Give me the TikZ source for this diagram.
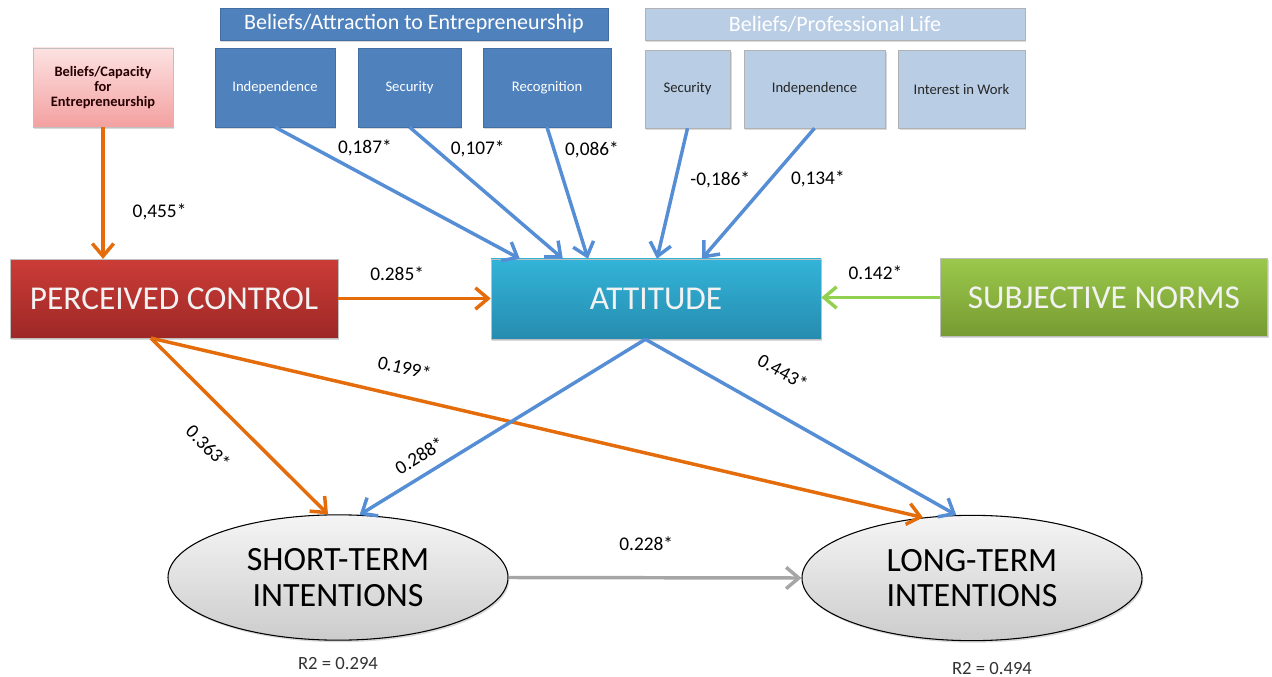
\documentclass[tikz,border=0pt]{standalone}
\usepackage{fontspec}
\setmainfont{Carlito}
\usetikzlibrary{positioning, calc, arrows.meta, shapes.geometric, shadows}
\definecolor{arrorange}{RGB}{228,108,10}
\definecolor{arrblue}{RGB}{85,142,213}
\definecolor{arrgreen}{RGB}{146,208,80}
\definecolor{arrgray}{RGB}{166,166,166}
\definecolor{attrblue}{RGB}{79,129,189}
\definecolor{profblue}{RGB}{185,205,229}
\begin{document}
\begin{tikzpicture}[x=0.75pt, y=-0.75pt, >={Straight Barb[length=9.5pt,width=16pt]},
  shade/.style={drop shadow={shadow xshift=1pt, shadow yshift=-1.5pt, opacity=.3}},
  small/.style={font=\fontsize{11}{11.5}\selectfont},
  box/.style={shade, inner sep=2pt, align=center, minimum height=59pt},
  attr/.style={box, small, fill=attrblue, draw=attrblue!85!black, text=white},
  prof/.style={box, small, fill=profblue, draw=black!30, text=black!85, minimum height=58.5pt},
  head/.style={box, font=\fontsize{16.5}{18}\selectfont, text=white, minimum height=24pt},
  big/.style={box, font=\fontsize{25}{27}\selectfont, text=white!95!black, minimum width=246pt, draw=black!25},
  goal/.style={ellipse, shade, draw=black, line width=.8pt, top color=black!4, bottom color=black!20, inner sep=0pt,
    minimum width=255pt, minimum height=94pt, align=center, font=\fontsize{25.5}{26.5}\selectfont},
  coef/.style={font=\fontsize{14.5}{16}\selectfont, inner sep=1pt},
  rsq/.style={font=\fontsize{14}{16}\selectfont, text=black!80},
  org/.style={draw=arrorange, line width=2.6pt, ->},
  blu/.style={draw=arrblue, line width=2.6pt, ->}]
\useasboundingbox (0,0) rectangle (1272,677);
\node[box, small, font=\bfseries\fontsize{10.8}{11.3}\selectfont, text=black!75!red!60!black, draw=black!25,
  top color={rgb,255:red,253;green,226;blue,226}, bottom color={rgb,255:red,243;green,160;blue,160},
  minimum width=105pt, minimum height=59.5pt] (cap) at (103,87.5) {Beliefs/Capacity\\for\\Entrepreneurship};
\node[head, fill=attrblue, draw=attrblue!85!black, minimum width=291pt] (ahead) at (414,24) {Beliefs/Attraction to Entrepreneurship};
\node[attr, minimum width=90pt] (aind) at (275,87.5) {Independence};
\node[attr, minimum width=77pt] (asec) at (409.5,87.5) {Security};
\node[attr, minimum width=96pt] (arec) at (547,87.5) {Recognition};
\node[head, fill=profblue, draw=black!30, minimum width=285pt] (phead) at (835,24) {Beliefs/Professional Life};
\node[prof, minimum width=64pt] (psec) at (687.5,89) {Security};
\node[prof, minimum width=106pt] (pind) at (814.5,89) {Independence};
\node[prof, minimum width=95pt] (pint) at (961.5,89) {Interest in Work};
\node[big, top color={rgb,255:red,203;green,60;blue,55}, bottom color={rgb,255:red,158;green,40;blue,38}] (pc) at (174,298.5) {PERCEIVED CONTROL};
\node[big, minimum width=247.5pt, minimum height=60pt, top color={rgb,255:red,50;green,180;blue,216}, bottom color={rgb,255:red,38;green,140;blue,175}] (att) at (656,299) {ATTITUDE};
\node[big, minimum width=245pt, minimum height=58.5pt, top color={rgb,255:red,155;green,200;blue,75}, bottom color={rgb,255:red,118;green,155;blue,50}] (sn) at (1104,297.5) {SUBJECTIVE NORMS};
\node[goal] (st) at (338,577.5) {SHORT-TERM\\INTENTIONS};
\node[goal] (lt) at (972,578) {LONG-TERM\\INTENTIONS};
\node[rsq, below=9pt of st] (rst) {R2 = 0.294};
\node[rsq, below=12.5pt of lt, xshift=15pt] (rlt) {R2 = 0.494};
\coordinate (pcout) at ($(pc.south west)!.43!(pc.south east)$);
\coordinate (attout) at ($(att.south west)!.468!(att.south east)$);
\draw[org] (cap.south) -- (cap.south |- pc.north) node[coef, pos=.64, right=20pt] (c455) {0,455*};
\draw[blu] (aind.south) -- ($(att.north west)!.088!(att.north east)$) node[coef, pos=.245, anchor=south west] (c187) {0,187*};
\draw[blu] (asec.south) -- ($(att.north west)!.218!(att.north east)$) node[coef, pos=.25, anchor=south west] (c107) {0,107*};
\draw[blu] (arec.south) -- ($(att.north west)!.294!(att.north east)$) node[coef, pos=.174, anchor=west, xshift=6pt] (c086) {0,086*};
\draw[blu] (psec.south) -- ($(att.north west)!.503!(att.north east)$) node[coef, pos=.397, anchor=west, xshift=9pt] (c186) {-0,186*};
\draw[blu] (pind.south) -- ($(att.north west)!.639!(att.north east)$) node[coef, pos=.39, anchor=west, xshift=13pt] (c134) {0,134*};
\draw[org] (pc.east) -- (pc.east -| att.west) node[coef, pos=.386, above=11pt] (c285) {0.285*};
\draw[draw=arrgreen, line width=2.6pt, ->] (sn.west) -- (sn.west -| att.east) node[coef, pos=.546, above=11pt] (c142) {0.142*};
\draw[org] (pcout) -- (st.99) node[coef, pos=.47, sloped, below=20pt] (c363) {0.363*};
\draw[org] (pcout) -- (lt.129) node[coef, pos=.32, sloped, above=14pt] (c199) {0.199*};
\draw[blu] (attout) -- (st.71) node[coef, pos=.755, sloped, above=7pt] (c288) {0.288*};
\draw[blu] (attout) -- (lt.104) node[coef, pos=.38, sloped, above=22pt] (c443) {0.443*};
\draw[draw=arrgray, line width=2.6pt, ->] (st.east) -- (lt.west) node[coef, pos=.47, above=18pt] (c228) {0.228*};
\end{tikzpicture}
\end{document}
